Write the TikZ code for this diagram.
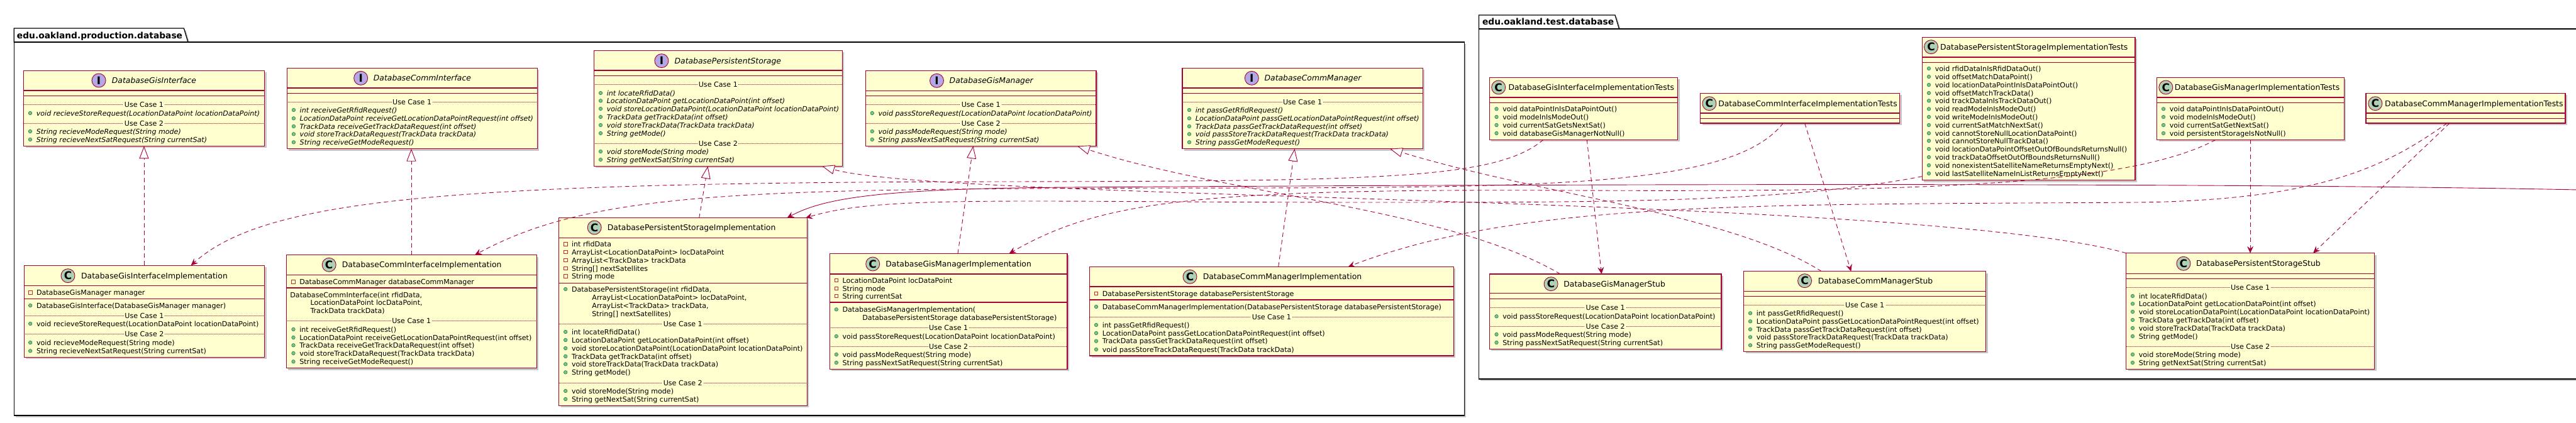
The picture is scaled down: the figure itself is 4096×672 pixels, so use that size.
\documentclass[tikz,border=0pt]{standalone}
\usepackage{fontspec}
\setmainfont{DejaVu Sans}
\usetikzlibrary{arrows.meta,fit,shadows}
\definecolor{crim}{HTML}{A80036}
\definecolor{classbg}{HTML}{FEFECE}
\definecolor{ifcirc}{HTML}{B4A7E5}
\definecolor{ccirc}{HTML}{ADD1B2}
\definecolor{pubfill}{HTML}{84BE84}
\definecolor{pubdraw}{HTML}{038048}
\definecolor{privdraw}{HTML}{C82930}
\newcommand\memfont{\fontsize{11.1pt}{13pt}\selectfont}
\newcommand\ttlfont{\fontsize{12.4pt}{14pt}\selectfont}
\newcommand\pkgfont{\fontsize{13.8pt}{16pt}\selectfont\bfseries}
\newcommand\circfont{\fontsize{17pt}{17pt}\selectfont\bfseries}
\tikzset{
 uclass/.style={draw=crim, fill=classbg, line width=1.2pt, inner sep=0pt, outer sep=0pt,
   drop shadow={shadow xshift=3pt, shadow yshift=-3pt, fill=black, opacity=0.22}},
 upkg/.style={draw=black, fill=white, line width=1.3pt,
   drop shadow={shadow xshift=3pt, shadow yshift=-3pt, fill=black, opacity=0.22}},
 ucmp/.style={draw=crim, line width=1.2pt},
 umem/.style={anchor=base west, inner sep=0pt, font=\memfont},
 umemi/.style={anchor=base west, inner sep=0pt, font=\memfont\itshape},
 uucl/.style={font=\memfont, fill=classbg, inner xsep=1.5pt, inner ysep=0pt, text height=8pt, text depth=0pt},
 usep/.style={draw=crim, line width=0.6pt, dash pattern=on 1pt off 1pt},
 upub/.style={fill=pubfill, draw=pubdraw, line width=0.5pt},
 upriv/.style={draw=privdraw, line width=0.8pt},
 ucirc/.style={circle, minimum size=22pt, inner sep=0pt, draw=crim, line width=0.9pt, font=\circfont},
 uttl/.style={anchor=base west, inner sep=0pt, font=\ttlfont},
 uconn/.style={draw=crim, line width=0.9pt},
 ureal/.style={uconn, dash pattern=on 7pt off 5pt, -{Triangle[length=20pt,width=15pt,fill=white]}},
 udep/.style={uconn, dash pattern=on 7pt off 5pt, -{Stealth[length=11pt,width=10pt,inset=4pt]}},
 uassoc/.style={uconn, -{Stealth[length=11pt,width=10pt,inset=4pt]}},
}
\newcommand\mkbox[7]{%
  \node[uclass, fit={(#2,#3) (#4,#5)}] (#1) {};
  \draw[ucmp] (#2,#6) -- (#4,#6);
  \draw[ucmp] (#2,#7) -- (#4,#7);}
\newcommand\ttlC[4]{\node[ucirc, fill=ccirc] at (#1,#2) {C}; \node[uttl] at (#3,#2+4.5) {#4};}
\newcommand\ttlI[4]{\node[ucirc, fill=ifcirc] at (#1,#2) {I}; \node[uttl, font=\ttlfont\itshape] at (#3,#2+4.5) {#4};}
\newcommand\pubm[3]{\path[upub] (#1,#2) circle[radius=2.8pt]; \node[umem] at (#1+9.6,#2+4) {#3};}
\newcommand\pubi[3]{\path[upub] (#1,#2) circle[radius=2.8pt]; \node[umemi] at (#1+9.6,#2+4) {#3};}
\newcommand\privm[3]{\path[upriv] (#1-2.8,#2-2.8) rectangle (#1+2.8,#2+2.8); \node[umem] at (#1+9.6,#2+4) {#3};}
\newcommand\plainm[3]{\node[umem] at (#1,#2+4) {#3};}
\newcommand\ucsep[4]{\draw[usep] (#1,#3) -- (#2,#3); \node[uucl] at ({(#1+#2)/2},#3) {#4};}
\begin{document}
\begin{tikzpicture}[x=1pt,y=-1pt]
\useasboundingbox (0,0) rectangle (4096,672);
\clip (0,0) rectangle (4096,672);
\fill[white] (0,0) rectangle (4096,672);
% ---------------- packages
\path[upkg] (22.3,67) -- (22.3,45) -- (292.4,45) -- (299,67) -- cycle;
\path[upkg] (22.3,67) rectangle (2328.2,661);
\node[anchor=base west, inner sep=0pt, font=\pkgfont] (pkgprod) at (26.8,61) {edu.oakland.production.database};
\path[upkg] (2351.4,46) -- (2351.4,24) -- (2568,24) -- (2574.6,46) -- cycle;
\path[upkg] (2351.4,46) rectangle (4130,603);
\node[anchor=base west, inner sep=0pt, font=\pkgfont] (pkgtest) at (2356.8,39.5) {edu.oakland.test.database};
% ---------------- A DatabaseGisInterface
\mkbox{gisif}{37.5}{112.3}{420.5}{232.3}{144}{152.7}
\ttlI{157.1}{128}{177.7}{DatabaseGisInterface}
\ucsep{37.5}{420.5}{166}{Use Case 1}
\pubi{48}{180}{void recieveStoreRequest(LocationDataPoint locationDataPoint)}
\ucsep{37.5}{420.5}{196}{Use Case 2}
\pubi{48}{209}{String recieveModeRequest(String mode)}
\pubi{48}{222}{String recieveNextSatRequest(String currentSat)}
% ---------------- B DatabaseCommInterface
\mkbox{commif}{456.2}{108.3}{854.1}{236.7}{140}{148.7}
\ttlI{573.7}{124.3}{593.7}{DatabaseCommInterface}
\ucsep{456.2}{854.1}{162.3}{Use Case 1}
\pubi{466.9}{175}{int receiveGetRfidRequest()}
\pubi{466.9}{188.3}{LocationDataPoint receiveGetLocationDataPointRequest(int offset)}
\pubi{466.9}{201}{TrackData receiveGetTrackDataRequest(int offset)}
\pubi{466.9}{213.3}{void storeTrackDataRequest(TrackData trackData)}
\pubi{466.9}{226.3}{String receiveGetModeRequest()}
% ---------------- C DatabasePersistentStorage
\mkbox{psif}{944.3}{80.3}{1339.4}{264.3}{112}{120.7}
\ttlI{1051.9}{96.7}{1072.4}{DatabasePersistentStorage}
\ucsep{944.3}{1339.4}{134.3}{Use Case 1}
\pubi{955}{148}{int locateRfidData()}
\pubi{955}{160.3}{LocationDataPoint getLocationDataPoint(int offset)}
\pubi{955}{173}{void storeLocationDataPoint(LocationDataPoint locationDataPoint)}
\pubi{955}{186}{TrackData getTrackData(int offset)}
\pubi{955}{199}{void storeTrackData(TrackData trackData)}
\pubi{955}{212}{String getMode()}
\ucsep{944.3}{1339.4}{228.3}{Use Case 2}
\pubi{955}{241}{void storeMode(String mode)}
\pubi{955}{254}{String getNextSat(String currentSat)}
% ---------------- D DatabaseGisManager
\mkbox{gismgr}{1376.5}{112.3}{1743}{232.3}{144.3}{152.7}
\ttlI{1489.5}{128.3}{1509.5}{DatabaseGisManager}
\ucsep{1376.5}{1743}{166}{Use Case 1}
\pubi{1386.8}{180}{void passStoreRequest(LocationDataPoint locationDataPoint)}
\ucsep{1376.5}{1743}{196}{Use Case 2}
\pubi{1386.8}{209}{void passModeRequest(String mode)}
\pubi{1386.8}{222}{String passNextSatRequest(String currentSat)}
% ---------------- E DatabaseCommManager
\mkbox{commmgr}{1880}{108.3}{2262.1}{236.7}{140}{148.7}
\ttlI{1990.3}{124.3}{2010.4}{DatabaseCommManager}
\ucsep{1880}{2262.1}{162.3}{Use Case 1}
\pubi{1891}{175}{int passGetRfidRequest()}
\pubi{1891}{188.3}{LocationDataPoint passGetLocationDataPointRequest(int offset)}
\pubi{1891}{201}{TrackData passGetTrackDataRequest(int offset)}
\pubi{1891}{213.3}{void passStoreTrackDataRequest(TrackData trackData)}
\pubi{1891}{226.3}{String passGetModeRequest()}
% ---------------- F DatabaseGisInterfaceImplementation
\mkbox{gisifimpl}{38.4}{422.3}{420.5}{568.3}{454.3}{475.7}
\ttlC{108}{438.7}{129}{DatabaseGisInterfaceImplementation}
\privm{48.2}{465.3}{DatabaseGisManager manager}
\pubm{48.2}{486}{DatabaseGisInterface(DatabaseGisManager manager)}
\ucsep{38.4}{420.5}{502.3}{Use Case 1}
\pubm{48.2}{515}{void recieveStoreRequest(LocationDataPoint locationDataPoint)}
\ucsep{38.4}{420.5}{531}{Use Case 2}
\pubm{48.2}{545}{void recieveModeRequest(String mode)}
\pubm{48.2}{558.3}{String recieveNextSatRequest(String currentSat)}
% ---------------- G DatabaseCommInterfaceImplementation
\mkbox{commifimpl}{455.4}{405.7}{853.2}{585.7}{437.3}{458}
\ttlC{523.2}{421.3}{543.7}{DatabaseCommInterfaceImplementation}
\privm{466.5}{448.3}{DatabaseCommManager databaseCommManager}
\plainm{461.2}{469}{DatabaseCommInterface(int rfidData,}
\plainm{493.3}{481}{LocationDataPoint locDataPoint,}
\plainm{493.3}{494}{TrackData trackData)}
\ucsep{455.4}{853.2}{510}{Use Case 1}
\pubm{466.5}{524}{int receiveGetRfidRequest()}
\pubm{466.5}{537}{LocationDataPoint receiveGetLocationDataPointRequest(int offset)}
\pubm{466.5}{549.3}{TrackData receiveGetTrackDataRequest(int offset)}
\pubm{466.5}{562}{void storeTrackDataRequest(TrackData trackData)}
\pubm{466.5}{575.3}{String receiveGetModeRequest()}
% ---------------- H DatabasePersistentStorageImplementation
\mkbox{psimpl}{888.5}{346.7}{1283.1}{645.3}{378.3}{450.3}
\ttlC{945.2}{362}{965.7}{DatabasePersistentStorageImplementation}
\privm{899.2}{388.3}{int rfidData}
\privm{899.2}{401}{ArrayList<LocationDataPoint> locDataPoint}
\privm{899.2}{414}{ArrayList<TrackData> trackData}
\privm{899.2}{427}{String[] nextSatellites}
\privm{899.2}{439.3}{String mode}
\pubm{899.2}{460}{DatabasePersistentStorage(int rfidData,}
\plainm{941.2}{473.3}{ArrayList<LocationDataPoint> locDataPoint,}
\plainm{941.2}{486}{ArrayList<TrackData> trackData,}
\plainm{941.2}{499}{String[] nextSatellites)}
\ucsep{888.5}{1283.1}{515}{Use Case 1}
\pubm{899.2}{528}{int locateRfidData()}
\pubm{899.2}{541}{LocationDataPoint getLocationDataPoint(int offset)}
\pubm{899.2}{554}{void storeLocationDataPoint(LocationDataPoint locationDataPoint)}
\pubm{899.2}{567}{TrackData getTrackData(int offset)}
\pubm{899.2}{579.3}{void storeTrackData(TrackData trackData)}
\pubm{899.2}{592.3}{String getMode()}
\ucsep{888.5}{1283.1}{609}{Use Case 2}
\pubm{899.2}{622}{void storeMode(String mode)}
\pubm{899.2}{635}{String getNextSat(String currentSat)}
% ---------------- I DatabaseGisManagerImplementation
\mkbox{gismgrimpl}{1319.4}{403.3}{1697}{587.3}{436}{481}
\ttlC{1387.7}{420}{1408.2}{DatabaseGisManagerImplementation}
\privm{1329.8}{446}{LocationDataPoint locDataPoint}
\privm{1329.8}{459}{String mode}
\privm{1329.8}{471}{String currentSat}
\pubm{1329.8}{492.3}{DatabaseGisManagerImplementation(}
\plainm{1371.2}{505}{DatabasePersistentStorage databasePersistentStorage)}
\ucsep{1319.4}{1697}{521}{Use Case 1}
\pubm{1329.8}{535}{void passStoreRequest(LocationDataPoint locationDataPoint)}
\ucsep{1319.4}{1697}{551}{Use Case 2}
\pubm{1329.8}{564}{void passModeRequest(String mode)}
\pubm{1329.8}{577}{String passNextSatRequest(String currentSat)}
% ---------------- J DatabaseCommManagerImplementation
\mkbox{commmgrimpl}{1732.7}{424.3}{2311.2}{566}{456}{477}
\ttlC{1892}{440.3}{1912.6}{DatabaseCommManagerImplementation}
\privm{1743}{467}{DatabasePersistentStorage databasePersistentStorage}
\pubm{1743}{488}{DatabaseCommManagerImplementation(DatabasePersistentStorage databasePersistentStorage)}
\ucsep{1732.7}{2311.2}{504}{Use Case 1}
\pubm{1743}{517}{int passGetRfidRequest()}
\pubm{1743}{530}{LocationDataPoint passGetLocationDataPointRequest(int offset)}
\pubm{1743}{542.7}{TrackData passGetTrackDataRequest(int offset)}
\pubm{1743}{556}{void passStoreTrackDataRequest(TrackData trackData)}
% ---------------- K DatabaseGisInterfaceImplementationTests
\mkbox{gisifimpltest}{2368.4}{123.3}{2667.5}{222.3}{155}{163.3}
\ttlC{2382.7}{139}{2398.3}{DatabaseGisInterfaceImplementationTests}
\pubm{2379.5}{173.3}{void dataPointInIsDataPointOut()}
\pubm{2379.5}{186}{void modeInIsModeOut()}
\pubm{2379.5}{199}{void currentSatGetsNextSat()}
\pubm{2379.5}{212}{void databaseGisManagerNotNull()}
% ---------------- L DatabaseCommInterfaceImplementationTests
\mkbox{commifimpltest}{2703.6}{148.3}{3020.5}{196}{180}{188.3}
\ttlC{2717.9}{164.7}{2732.1}{DatabaseCommInterfaceImplementationTests}
% ---------------- M DatabasePersistentStorageImplementationTests
\mkbox{psimpltest}{3056.3}{59.3}{3395}{286.7}{91}{99.3}
\ttlC{3070.5}{74.7}{3084.8}{DatabasePersistentStorageImplementationTests}
\pubm{3067}{109}{void rfidDataInIsRfidDataOut()}
\pubm{3067}{122}{void offsetMatchDataPoint()}
\pubm{3067}{135}{void locationDataPointInIsDataPointOut()}
\pubm{3067}{148}{void offsetMatchTrackData()}
\pubm{3067}{160.3}{void trackDataInIsTrackDataOut()}
\pubm{3067}{173.3}{void readModeInIsModeOut()}
\pubm{3067}{186}{void writeModeInIsModeOut()}
\pubm{3067}{199}{void currentSatMatchNextSat()}
\pubm{3067}{212}{void cannotStoreNullLocationDataPoint()}
\pubm{3067}{224}{void cannotStoreNullTrackData()}
\pubm{3067}{237}{void locationDataPointOffsetOutOfBoundsReturnsNull()}
\pubm{3067}{250}{void trackDataOffsetOutOfBoundsReturnsNull()}
\pubm{3067}{263}{void nonexistentSatelliteNameReturnsEmptyNext()}
\pubm{3067}{276}{void lastSatelliteNameInListReturnsEmptyNext()}
% ---------------- N DatabaseGisManagerImplementationTests
\mkbox{gismgrimpltest}{3429.5}{123.3}{3727.2}{222.3}{155}{163.3}
\ttlC{3443.8}{139}{3457.6}{DatabaseGisManagerImplementationTests}
\pubm{3440}{173.3}{void dataPointInIsDataPointOut()}
\pubm{3440}{186}{void modeInIsModeOut()}
\pubm{3440}{199}{void currentSatGetNextSat()}
\pubm{3440}{212}{void persistentStorageIsNotNull()}
% ---------------- O DatabaseCommManagerImplementationTests
\mkbox{commmgrimpltest}{3762}{148.3}{4079}{196}{180}{188.3}
\ttlC{3776.8}{164.7}{3792}{DatabaseCommManagerImplementationTests}
% ---------------- P DatabaseGisManagerStub
\mkbox{gismgrstub}{2368.4}{436}{2737}{555.3}{466.7}{475.3}
\ttlC{2466.1}{451.7}{2486.2}{DatabaseGisManagerStub}
\ucsep{2368.4}{2737}{489.3}{Use Case 1}
\pubm{2379.5}{503.3}{void passStoreRequest(LocationDataPoint locationDataPoint)}
\ucsep{2368.4}{2737}{519}{Use Case 2}
\pubm{2379.5}{532}{void passModeRequest(String mode)}
\pubm{2379.5}{545}{String passNextSatRequest(String currentSat)}
% ---------------- Q DatabaseCommManagerStub
\mkbox{commmgrstub}{2772.8}{431.7}{3157.6}{559.3}{463.3}{471.7}
\ttlC{2869.6}{446.7}{2890.6}{DatabaseCommManagerStub}
\ucsep{2772.8}{3157.6}{485}{Use Case 1}
\pubm{2783}{498.3}{int passGetRfidRequest()}
\pubm{2783}{511.3}{LocationDataPoint passGetLocationDataPointRequest(int offset)}
\pubm{2783}{524}{TrackData passGetTrackDataRequest(int offset)}
\pubm{2783}{536.3}{void passStoreTrackDataRequest(TrackData trackData)}
\pubm{2783}{549.3}{String passGetModeRequest()}
% ---------------- R DatabasePersistentStorageStub
\mkbox{psstub}{3380.8}{402.7}{3775.5}{587.3}{435.3}{443.3}
\ttlC{3471.9}{419.3}{3492}{DatabasePersistentStorageStub}
\ucsep{3380.8}{3775.5}{457.3}{Use Case 1}
\pubm{3391}{471}{int locateRfidData()}
\pubm{3391}{483.3}{LocationDataPoint getLocationDataPoint(int offset)}
\pubm{3391}{496}{void storeLocationDataPoint(LocationDataPoint locationDataPoint)}
\pubm{3391}{509}{TrackData getTrackData(int offset)}
\pubm{3391}{522}{void storeTrackData(TrackData trackData)}
\pubm{3391}{535}{String getMode()}
\ucsep{3380.8}{3775.5}{551}{Use Case 2}
\pubm{3391}{564}{void storeMode(String mode)}
\pubm{3391}{577}{String getNextSat(String currentSat)}
% ---------------- realizations
\draw[ureal] ([xshift=190.6pt]gisifimpl.north west) -- ([xshift=191.5pt]gisif.south west);
\draw[ureal] ([xshift=198.6pt]commifimpl.north west) -- ([xshift=197.8pt]commif.south west);
\draw[ureal] ([xshift=223.2pt]psimpl.north west) -- ([xshift=181.2pt]psif.south west);
\draw[ureal] ([xshift=203.6pt]gismgrimpl.north west) -- ([xshift=171pt]gismgr.south west);
\draw[ureal] ([xshift=300pt]commmgrimpl.north west) -- ([xshift=178.6pt]commmgr.south west);
\draw[ureal] ([xshift=112.6pt]gismgrstub.north west) .. controls (2300,330) and (1950,310) .. ([xshift=336.5pt]gismgr.south west);
\draw[ureal] (psstub.north west) .. controls (3050,310) and (1500,320) .. ([xshift=362.7pt]psif.south west);
\draw[ureal] ([xshift=123.6pt]commmgrstub.north west) .. controls (2750,340) and (2450,310) .. ([xshift=330pt]commmgr.south west);
% ---------------- dependencies
\draw[udep] ([xshift=85.6pt]gisifimpltest.south west) .. controls (2380,285) and (2200,288) .. (1600,289) .. controls (700,290) and (420,318) .. ([xshift=265.2pt]gisifimpl.north west);
\draw[udep] ([xshift=154.9pt]gisifimpltest.south west) -- ([xshift=178.1pt]gismgrstub.north west);
\draw[udep] ([xshift=131.7pt]commifimpltest.south west) .. controls (2760,292) and (2500,298) .. (2000,299) .. controls (1200,300) and (950,300) .. ([xshift=299.6pt]commifimpl.north west);
\draw[udep] ([xshift=166pt]commifimpltest.south west) -- ([xshift=170.5pt]commmgrstub.north west);
\draw[udep] ([yshift=6pt]psimpltest.south west) .. controls (2850,320) and (2600,322) .. (2200,322) .. controls (1600,322) and (1400,310) .. ([xshift=-2pt]psimpl.north east);
\draw[udep] ([xshift=148.5pt]gismgrimpltest.south west) -- ([xshift=197.2pt]psstub.north west);
\draw[udep] ([xshift=93.5pt]gismgrimpltest.south west) .. controls (3380,300) and (3000,305) .. (2500,303) .. controls (1900,300) and (1750,320) .. ([xshift=285.2pt]gismgrimpl.north west);
\draw[udep] ([xshift=133pt]commmgrimpltest.south west) -- ([xshift=297.2pt]psstub.north west);
\draw[udep] ([xshift=129pt]commmgrimpltest.south west) .. controls (3800,260) and (3700,318) .. (3400,322) .. controls (2800,326) and (2420,318) .. ([xshift=411.1pt]commmgrimpl.north west);
% ---------------- association from outside the view
\coordinate (offright) at (4100,302);
\draw[uassoc] (offright) .. controls (3500,290) and (2500,293) .. (1700,298) .. controls (1400,300) and (1310,315) .. ([xshift=362.9pt]psimpl.north west);
\end{tikzpicture}
\end{document}
